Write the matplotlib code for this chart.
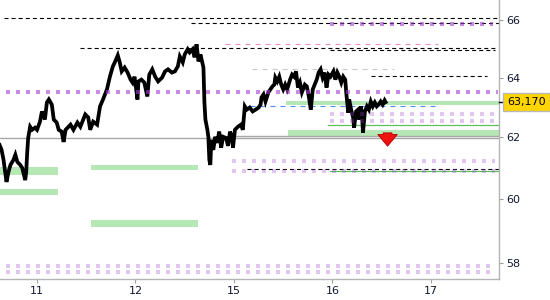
import numpy as np
import matplotlib
matplotlib.use("Agg")
import matplotlib.pyplot as plt
import matplotlib.transforms as mtransforms
from matplotlib.ticker import FixedLocator, NullLocator, FixedFormatter

plt.rcParams['lines.scale_dashes'] = False

# Price path (x = trading-day index, 0 = day "11")
times = [-0.38, -0.36, -0.34, -0.31, -0.29, -0.27, -0.24, -0.22, -0.20, -0.17,
         -0.15, -0.12, -0.11, -0.10, -0.09, -0.07, -0.05, -0.02, 0.00, 0.03,
         0.05, 0.08, 0.10, 0.12, 0.15, 0.17, 0.20, 0.22, 0.25, 0.27,
         0.29, 0.31, 0.34, 0.37, 0.41, 0.44, 0.49, 0.52, 0.54, 0.57,
         0.61, 0.64, 0.67, 0.71, 0.74, 0.77, 0.79, 0.82, 0.84, 0.86,
         0.89, 0.92, 0.95, 0.97, 0.99, 1.02, 1.03, 1.06, 1.09, 1.12,
         1.14, 1.17, 1.20, 1.23, 1.27, 1.30, 1.33, 1.37, 1.40, 1.43,
         1.45, 1.48, 1.50, 1.53, 1.55, 1.58, 1.60, 1.62, 1.64, 1.66,
         1.69, 1.70, 1.71, 1.73, 1.74, 1.75, 1.76, 1.77, 1.79, 1.81,
         1.83, 1.85, 1.87, 1.89, 1.92, 1.94, 1.96, 1.98, 1.99, 2.01,
         2.04, 2.07, 2.09, 2.11, 2.13, 2.16, 2.19, 2.22, 2.25, 2.27,
         2.28, 2.30, 2.32, 2.35, 2.37, 2.39, 2.41, 2.42, 2.44, 2.46,
         2.48, 2.50, 2.52, 2.54, 2.57, 2.59, 2.61, 2.63, 2.65, 2.67,
         2.69, 2.72, 2.74, 2.76, 2.78, 2.80, 2.82, 2.84, 2.86, 2.88,
         2.90, 2.92, 2.94, 2.96, 2.98, 3.01, 3.03, 3.05, 3.07, 3.09,
         3.11, 3.13, 3.14, 3.15, 3.16, 3.17, 3.19, 3.21, 3.22, 3.24,
         3.26, 3.27, 3.29, 3.30, 3.31, 3.33, 3.35, 3.37, 3.39, 3.41,
         3.43, 3.45, 3.47, 3.49, 3.51, 3.53, 3.54]
prices = [61.75, 61.59, 61.26, 60.55, 60.87, 61.10, 61.26, 61.43, 61.20, 61.10,
          61.00, 60.61, 60.87, 61.49, 61.98, 62.35, 62.25, 62.32, 62.25, 62.52,
          62.86, 62.59, 63.16, 63.26, 63.09, 62.59, 62.49, 62.25, 62.19, 61.85,
          62.25, 62.32, 62.42, 62.25, 62.49, 62.35, 62.76, 62.66, 62.25, 62.52,
          62.42, 63.03, 63.26, 63.60, 64.03, 64.38, 64.52, 64.76, 64.52, 64.21,
          64.34, 64.17, 63.93, 63.83, 64.03, 63.26, 63.87, 63.93, 63.83, 63.36,
          64.10, 64.28, 64.03, 63.87, 64.00, 64.21, 64.28, 64.17, 64.21, 64.38,
          64.72, 64.52, 64.79, 64.97, 64.86, 64.97, 64.69, 65.14, 64.55, 64.79,
          64.34, 63.16, 62.59, 62.25, 62.02, 61.26, 61.10, 61.92, 61.59, 62.02,
          61.82, 62.19, 61.66, 62.02, 61.98, 61.72, 62.19, 62.02, 61.66, 62.25,
          62.35, 62.42, 62.25, 63.03, 62.92, 62.99, 62.86, 62.92, 62.99, 63.09,
          63.33, 63.43, 63.19, 63.50, 63.60, 63.70, 63.76, 64.00, 63.87, 64.03,
          63.76, 63.60, 63.76, 63.60, 63.93, 64.10, 64.03, 64.21, 63.66, 63.83,
          63.50, 63.76, 63.70, 63.36, 62.92, 63.60, 63.76, 63.93, 64.17, 64.28,
          64.00, 64.17, 63.66, 64.10, 64.03, 64.21, 63.93, 64.17, 64.03, 63.83,
          64.03, 63.93, 63.50, 63.16, 62.82, 63.26, 62.92, 62.66, 62.32, 62.86,
          62.92, 62.59, 63.03, 62.76, 62.15, 62.86, 63.03, 62.92, 63.19, 63.03,
          63.16, 63.03, 63.09, 63.19, 63.09, 63.23, 63.17]
last_price = 63.17
last_label = "63,170"

day_labels = ['11', '12', '15', '16', '17']
y_ticks = [58, 60, 62, 64, 66]

# Horizontal levels: price, start, end
black_dash = [66.06, 65.89, 65.02, 64.93, 64.06, 60.96]
black_dash_start = [-0.34, 1.56, 0.44, 2.98, 3.39, 2.13]
black_dash_end = [4.69, 4.69, 4.65, 4.65, 4.57, 4.69]

purple_dot = [65.84, 63.51]
purple_dot_start = [2.98, -0.32]
purple_dot_end = [4.63, 4.68]

light_dot = [62.79, 62.55, 61.24, 60.91, 57.92, 57.71]
light_dot_start = [2.98, 2.98, 1.98, 1.98, -0.32, -0.32]
light_dot_end = [4.65, 4.65, 4.65, 4.65, 4.65, 4.65]

pink_level, pink_range = 65.14, (1.91, 4.07)
grey_dash_level, grey_dash_range = 64.29, (2.18, 3.63)
blue_level, blue_range = 63.04, (2.16, 4.04)

green_line = [62.40, 60.90]
green_line_start = [2.96, 2.98]

grey_line = [61.98, 62.03]
grey_line_start = [-0.38, 1.98]

band_lo = [63.08, 62.05, 60.78, 60.13, 60.94, 59.13]
band_hi = [63.21, 62.25, 61.04, 60.32, 61.10, 59.34]
band_start = [2.53, 2.55, -0.38, -0.38, 0.55, 0.55]
band_end = [4.69, 4.69, 0.21, 0.21, 1.63, 1.63]

arrow_x, arrow_top, arrow_bottom = 3.56, 62.24, 61.62

fig = plt.figure(figsize=(5.5, 3.0), dpi=100)
ax = fig.add_axes([0.0, 0.07, 0.907, 0.93])

x_end = 4.69
for lo, hi, s, e in zip(band_lo, band_hi, band_start, band_end):
    ax.fill_between([s, e], lo, hi, color='#b5e8b5', lw=0, zorder=1)

for lvl, s in zip(grey_line, grey_line_start):
    ax.plot([s, x_end], [lvl, lvl], color='#a8a8a8', lw=1.0, zorder=1.5)

for lvl, s in zip(green_line, green_line_start):
    ax.plot([s, x_end], [lvl, lvl], color='#5cc05c', lw=0.9, zorder=1.5)

for lvl, s, e in zip(black_dash, black_dash_start, black_dash_end):
    ax.plot([s, e], [lvl, lvl], color='black', lw=0.8,
            linestyle=(0, (2.9, 2.2)), zorder=2)

ax.plot(pink_range, [pink_level] * 2, color='#f28cc4', lw=0.8,
        linestyle=(0, (3.6, 3.6)), zorder=2)
ax.plot(grey_dash_range, [grey_dash_level] * 2, color='#c8c8c8', lw=0.8,
        linestyle=(0, (3.6, 3.6)), zorder=2)
ax.plot(blue_range, [blue_level] * 2, color='#4f8ff5', lw=0.8,
        linestyle=(0, (3.6, 3.6)), zorder=2)

# price
ax.plot(times, prices, color='black', lw=2.7, solid_joinstyle='miter', zorder=3)

# dotted zones drawn over price
for lvl, s, e in zip(purple_dot, purple_dot_start, purple_dot_end):
    ax.plot([s, e], [lvl, lvl], color='#a33fd5', alpha=0.6, lw=2.9,
            linestyle=(0, (2.9, 4.3)), dash_capstyle='butt', zorder=4)
for lvl, s, e in zip(light_dot, light_dot_start, light_dot_end):
    ax.plot([s, e], [lvl, lvl], color='#a33fd5', alpha=0.3, lw=2.9,
            linestyle=(0, (2.9, 4.3)), dash_capstyle='butt', zorder=4)

ax.annotate('', xy=(arrow_x, arrow_bottom), xytext=(arrow_x, arrow_top),
            arrowprops=dict(arrowstyle='simple,head_length=0.6,head_width=1.0,tail_width=0.45',
                            fc='#f01010', ec='#b00000', lw=0.6, mutation_scale=14),
            zorder=5)

ax.set_yscale('log')
ax.set_xlim(-0.376, 4.69)
ax.set_ylim(57.51, 66.69)

ax.yaxis.set_major_locator(FixedLocator(y_ticks))
ax.yaxis.set_major_formatter(FixedFormatter([str(v) for v in y_ticks]))
ax.yaxis.set_minor_locator(NullLocator())
ax.yaxis.tick_right()
ax.set_xticks(range(len(day_labels)))
ax.set_xticklabels(day_labels)

for side in ['left', 'top']:
    ax.spines[side].set_visible(False)
for side in ['right', 'bottom']:
    ax.spines[side].set_color('#b4b4b4')
    ax.spines[side].set_linewidth(1.0)
ax.tick_params(axis='both', colors='#a0a0a0', labelcolor='#101830',
               labelsize=8, length=3, width=0.8, pad=2)

# last price label
trans = mtransforms.blended_transform_factory(ax.transAxes, ax.transData)
ax.plot([1.0, 1.012], [last_price, last_price], color='black', lw=1.0,
        transform=trans, clip_on=False, zorder=6)
ax.text(1.017, last_price, last_label, transform=trans, fontsize=8,
        va='center', ha='left', color='black', zorder=6,
        bbox=dict(boxstyle='square,pad=0.38', fc='#ffd500', ec='#b8b8b8', lw=1.0))

fig.savefig('out.png', dpi=100)
